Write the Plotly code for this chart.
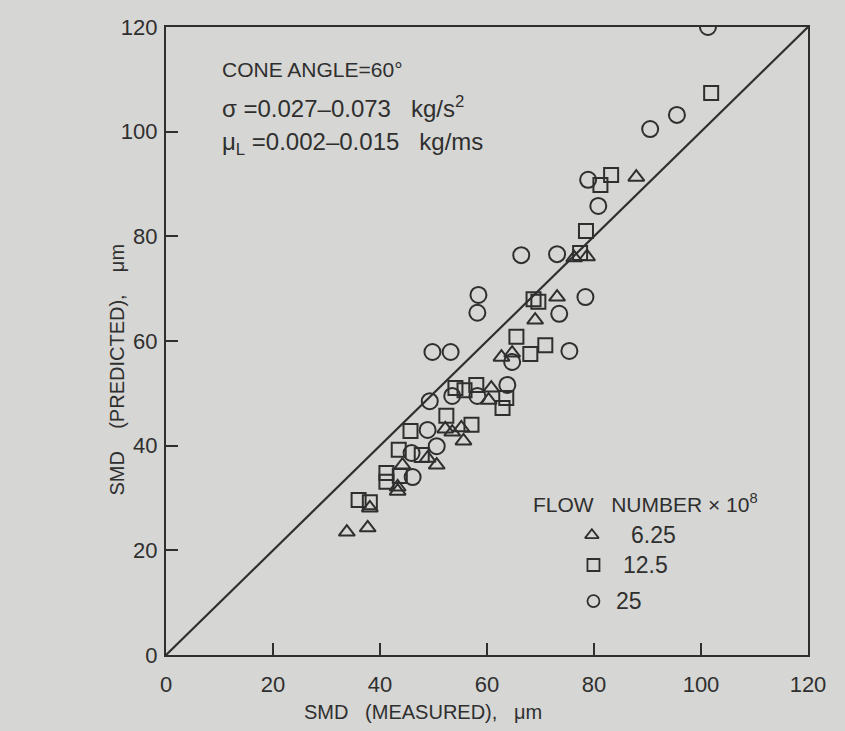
import plotly.graph_objects as go

# Sauter mean diameter: measured vs predicted, grouped by flow number (x10^8)
tri_measured = [87.9, 76.3, 78.7, 73.1, 69.0, 62.7, 64.7, 60.8, 60.3, 52.2, 53.5,
                55.2, 55.6, 44.2, 48.9, 50.6, 43.3, 43.3, 38.1, 33.8, 37.7]
tri_predicted = [91.3, 75.9, 76.1, 68.4, 64.0, 56.9, 57.7, 51.0, 48.7, 43.2, 42.6,
                 43.4, 40.9, 36.3, 37.6, 36.3, 32.1, 31.3, 28.1, 23.5, 24.3]

sq_measured = [101.9, 83.2, 81.2, 78.5, 77.4, 68.7, 69.6, 65.5, 70.9, 68.1, 54.1,
               55.8, 58.0, 63.6, 62.9, 52.4, 57.1, 45.7, 43.5, 47.8, 41.2, 41.2,
               43.7, 36.0, 38.1]
sq_predicted = [107.4, 91.7, 89.8, 81.0, 76.8, 68.0, 67.5, 60.8, 59.2, 57.5, 51.0,
                50.6, 51.6, 49.1, 47.2, 45.7, 44.0, 42.8, 39.2, 38.2, 34.8, 33.1,
                34.2, 29.6, 29.2]

circ_measured = [101.3, 95.5, 90.5, 78.9, 80.8, 66.4, 73.1, 58.4, 58.2, 78.4, 73.5,
                 75.4, 49.8, 53.2, 64.7, 63.8, 49.3, 53.5, 58.2, 48.9, 45.9, 50.6, 46.1]
circ_predicted = [120.0, 103.2, 100.5, 90.8, 85.8, 76.4, 76.6, 68.8, 65.4, 68.4, 65.2,
                  58.1, 57.9, 57.9, 56.0, 51.6, 48.5, 49.5, 49.5, 43.0, 38.6, 39.9, 34.0]

# Perfect-agreement line
parity = [0, 120]

tick_vals = [0, 20, 40, 60, 80, 100, 120]
tick_text = ["0", "20", "40", "60", "80", "100", "120"]

# Key entries (symbol, label, position)
key_symbols = ["triangle-up-open", "square-open", "circle-open"]
key_labels = ["6.25", "12.5", "25"]
key_x = [79.6, 79.9, 79.9]
key_y = [22.9, 17.2, 10.3]
key_text_x = [86.6, 85.0, 83.8]

INK = "#2f2f2f"
PAPER = "#d6d6d4"
FONT = "Liberation Sans"
SP = "\u00a0"

fig = go.Figure()

fig.add_trace(go.Scatter(x=parity, y=parity, mode="lines",
                         line=dict(color=INK, width=2.2), hoverinfo="skip"))

marker_line = dict(color=INK, width=2)
fig.add_trace(go.Scatter(x=tri_measured, y=tri_predicted, mode="markers",
                         marker=dict(symbol="triangle-up-open", size=14, color=INK,
                                     line=marker_line)))
fig.add_trace(go.Scatter(x=sq_measured, y=sq_predicted, mode="markers",
                         marker=dict(symbol="square-open", size=14, color=INK,
                                     line=marker_line)))
fig.add_trace(go.Scatter(x=circ_measured, y=circ_predicted, mode="markers",
                         marker=dict(symbol="circle-open", size=16, color=INK,
                                     line=marker_line)))

# Key markers
fig.add_trace(go.Scatter(x=key_x, y=key_y, mode="markers",
                         marker=dict(symbol=key_symbols, size=12, color=INK,
                                     line=dict(color=INK, width=1.8))))

annotations = []
for tx, ty, lab in zip(key_text_x, key_y, key_labels):
    annotations.append(dict(x=tx, y=ty, xref="x", yref="y", text=lab,
                            showarrow=False, xanchor="left", yanchor="middle",
                            font=dict(family=FONT, size=23, color=INK)))

annotations.append(dict(x=68.3, y=29.0, xref="x", yref="y",
                        text="FLOW" + SP * 3 + "NUMBER" + SP + "\u00d7" + SP + "10<sup>8</sup>",
                        showarrow=False, xanchor="left", yanchor="middle",
                        font=dict(family=FONT, size=21, color=INK)))

conditions = [
    (111.8, 21, "CONE ANGLE=60\u00b0"),
    (104.8, 24, "\u03c3" + SP + "=0.027\u20130.073" + SP * 3 + "kg/s<sup>2</sup>"),
    (97.8, 24, "\u03bc<sub>L</sub>" + SP + "=0.002\u20130.015" + SP * 3 + "kg/ms"),
]
for ty, fs, txt in conditions:
    annotations.append(dict(x=10.1, y=ty, xref="x", yref="y", text=txt,
                            showarrow=False, xanchor="left", yanchor="middle",
                            font=dict(family=FONT, size=fs, color=INK)))

annotations.append(dict(x=0.40, y=-0.09, xref="paper", yref="paper",
                        text="SMD" + SP * 3 + "(MEASURED)," + SP * 3 + "\u03bcm",
                        showarrow=False, xanchor="center", yanchor="middle",
                        font=dict(family=FONT, size=20, color=INK)))
annotations.append(dict(x=-0.076, y=0.455, xref="paper", yref="paper",
                        text="SMD" + SP * 4 + "(PREDICTED)," + SP * 4 + "\u03bcm",
                        showarrow=False, textangle=-90,
                        xanchor="center", yanchor="middle",
                        font=dict(family=FONT, size=20, color=INK)))

axis_common = dict(range=[0, 120], tickvals=tick_vals, ticktext=tick_text,
                   ticks="inside", ticklen=12, tickwidth=2, tickcolor=INK,
                   showline=True, linecolor=INK, linewidth=2.4, mirror=True,
                   showgrid=False, zeroline=False,
                   tickfont=dict(family=FONT, size=22, color=INK))

fig.update_layout(
    width=845, height=731,
    margin=dict(l=166, r=37, t=27, b=76),
    paper_bgcolor=PAPER, plot_bgcolor=PAPER,
    showlegend=False,
    xaxis=dict(**axis_common, ticklabelstandoff=8),
    yaxis=dict(**axis_common, ticklabelstandoff=2),
    annotations=annotations,
)

fig.write_html("out.html")
